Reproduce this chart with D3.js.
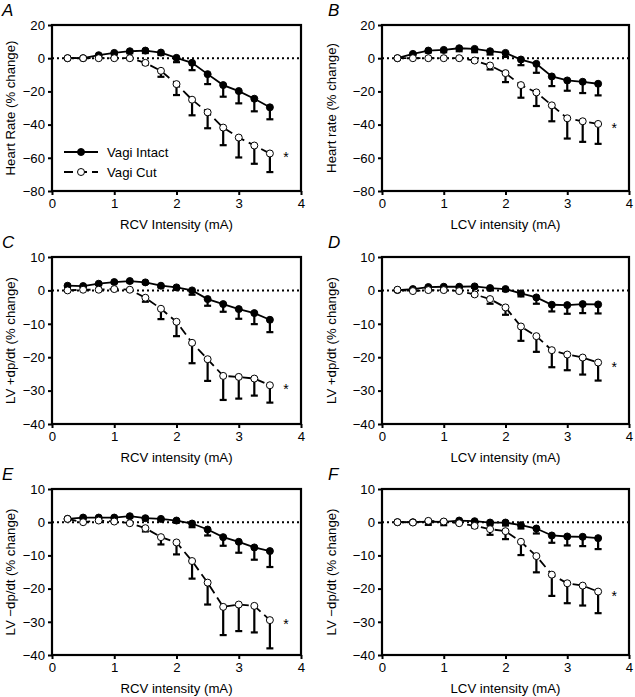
<!DOCTYPE html>
<html><head><meta charset="utf-8">
<script src="https://cdn.jsdelivr.net/npm/d3@7"></script>
<style>
html,body{margin:0;padding:0;background:#fff;}
svg{display:block;font-family:"Liberation Sans",Arial,Helvetica,sans-serif;}
</style></head>
<body>
<svg id="chart" width="635" height="697"></svg>
<script>
const intensity = [0.25,0.5,0.75,1.0,1.25,1.5,1.75,2.0,2.25,2.5,2.75,3.0,3.25,3.5];
const xTicks = [0,1,2,3,4];
const hrTicks = [-80,-60,-40,-20,0,20];
const dpTicks = [-40,-30,-20,-10,0,10];

const intactA = [0,0,1.8,3.2,4.2,4.6,3.4,0.2,-2.8,-9.6,-16.2,-19.8,-24.4,-29.6];
const intactAErr = [0,0.5,0.8,1,1.2,1.5,1.5,2.6,4.4,6,7,7.4,7.6,7.2];
const cutA = [0,0,0,0,0,-2.8,-7.6,-15.6,-25,-32.6,-41.8,-47.8,-52.6,-57.4];
const cutAErr = [0,0,0,0,0.5,1,3.6,6.6,9.4,9.6,10.6,12,11,11.2];

const intactB = [0,2.6,4.6,5,6,5.6,4.2,3.2,-0.8,-3.4,-11,-13.4,-14.2,-15.4];
const intactBErr = [0,0.5,1.2,1.4,1.8,2,2,2.4,3.4,5.4,5.8,6.2,6.8,7];
const cutB = [0,0,0,0,0,-1.4,-4.4,-9,-16.2,-20.6,-28.4,-36.2,-38,-39.6];
const cutBErr = [0,0,0,0,0.3,0.8,2.4,5.4,7.6,8.2,9.6,12.2,12.4,12];

const intactC = [1.4,1.3,2.0,2.5,2.8,2.4,1.4,0.9,0,-2.6,-4.1,-5.6,-6.8,-8.8];
const intactCErr = [0.3,0.3,0.3,0.3,0.4,0.4,0.5,0.6,1.3,2,2.3,2.9,3.3,3.7];
const cutC = [0,0.2,0.2,0.4,0.2,-2.2,-5.5,-9.4,-15.7,-20.6,-25.6,-25.9,-26.4,-28.4];
const cutCErr = [0,0,0,0.1,0.2,1.2,3.1,4.3,6.1,6.5,7.2,6.5,5.1,5.2];

const intactD = [0.1,0.4,1.0,1.1,1.1,1.2,0.7,0.4,-0.9,-2.1,-4.3,-4.4,-4.1,-4.2];
const intactDErr = [0.2,0.2,0.3,0.3,0.3,0.4,0.5,0.6,0.9,1.9,2,2.6,2.7,2.7];
const cutD = [0.2,-0.2,0.1,0.1,-0.2,-1.2,-2.6,-5.1,-10.8,-13.7,-17.9,-19.2,-20.1,-21.6];
const cutDErr = [0,0,0,0,0.2,0.4,1.4,2.2,4.3,4.7,5.1,4.7,5.1,5.4];

const intactE = [1.0,1.4,1.4,1.4,1.8,1.2,1.0,0.5,-0.4,-2.2,-4.5,-5.9,-7.6,-8.7];
const intactEErr = [0.2,0.3,0.3,0.3,0.4,0.4,0.5,0.6,1.1,1.8,2.6,3.3,3.7,4.8];
const cutE = [1.0,0,0.5,0.2,-0.3,-1.8,-4.5,-6.1,-11.7,-18.2,-25.5,-24.8,-25.2,-29.5];
const cutEErr = [0,0,0,0.1,0.2,1.0,2.2,3.6,5.3,6.6,8.5,8,8,8.5];

const intactF = [0,0,0.2,0.1,0.5,0.3,-0.1,-0.1,-0.9,-1.9,-4.0,-4.3,-4.4,-4.8];
const intactFErr = [0.2,0.4,1.0,1.0,0.8,0.6,0.8,0.9,1.0,1.5,2.2,2.7,2.8,3.3];
const cutF = [0,-0.1,0.4,0.2,-0.3,-1.1,-2.1,-2.7,-5.9,-10.2,-15.8,-18.4,-19.1,-20.9];
const cutFErr = [0,0,0,0,0.2,0.5,1.7,2.4,4.0,4.9,6.4,6,6,6.5];

const panelLetters = ["A","B","C","D","E","F"];
const yLabels = ["Heart Rate (% change)","Heart rate (% change)","LV +dp/dt (% change)","LV +dp/dt (% change)","LV \u2212dp/dt (% change)","LV \u2212dp/dt (% change)"];
const xLabels = ["RCV Intensity (mA)","LCV intensity (mA)","RCV intensity (mA)","LCV intensity (mA)","RCV intensity (mA)","LCV intensity (mA)"];
const legendLabels = ["Vagi Intact","Vagi Cut"];

const panels = [
  {intact:intactA, intactErr:intactAErr, cut:cutA, cutErr:cutAErr, yDom:[-80,20], yT:hrTicks},
  {intact:intactB, intactErr:intactBErr, cut:cutB, cutErr:cutBErr, yDom:[-80,20], yT:hrTicks},
  {intact:intactC, intactErr:intactCErr, cut:cutC, cutErr:cutCErr, yDom:[-40,10], yT:dpTicks},
  {intact:intactD, intactErr:intactDErr, cut:cutD, cutErr:cutDErr, yDom:[-40,10], yT:dpTicks},
  {intact:intactE, intactErr:intactEErr, cut:cutE, cutErr:cutEErr, yDom:[-40,10], yT:dpTicks},
  {intact:intactF, intactErr:intactFErr, cut:cutF, cutErr:cutFErr, yDom:[-40,10], yT:dpTicks}
];

const cols = [{x0:52, x1:301, lab:15}, {x0:382, x1:629, lab:336}];
const rows = [{y0:25, y1:191}, {y0:257, y1:424}, {y0:489, y1:655}];
const FS = 13.2;

const svg = d3.select("#chart");
const fmt = d => d < 0 ? "\u2212" + Math.abs(d) : String(d);

panels.forEach((p, i) => {
  const c = cols[i % 2], r = rows[Math.floor(i / 2)];
  const x = d3.scaleLinear().domain([0,4]).range([c.x0, c.x1]);
  const y = d3.scaleLinear().domain(p.yDom).range([r.y1, r.y0]);
  const g = svg.append("g");

  g.append("line").attr("x1", x(0)).attr("x2", x(4)).attr("y1", y(0)).attr("y2", y(0))
    .attr("stroke", "#000").attr("stroke-width", 2).attr("stroke-dasharray", "2,3");

  const ax = g.append("g").attr("transform", `translate(0,${r.y1})`)
    .call(d3.axisBottom(x).tickValues(xTicks).tickSize(4).tickPadding(4).tickFormat(d3.format("d")));
  const ay = g.append("g").attr("transform", `translate(${c.x0},0)`)
    .call(d3.axisLeft(y).tickValues(p.yT).tickSize(4).tickPadding(3).tickFormat(fmt));
  [ax, ay].forEach(a => {
    a.select(".domain").remove();
    a.selectAll(".tick line").attr("stroke-width", 2).attr("stroke", "#000");
    a.selectAll(".tick text").attr("font-size", FS).attr("fill", "#000").attr("font-family", null);
  });
  g.append("rect").attr("x", c.x0).attr("y", r.y0).attr("width", c.x1 - c.x0).attr("height", r.y1 - r.y0)
    .attr("fill", "none").attr("stroke", "#000").attr("stroke-width", 2.2);

  const drawSeries = (vals, errs, dashed, filled) => {
    const eg = g.append("g");
    vals.forEach((v, k) => {
      if (errs[k] <= 0.05) return;
      const xx = x(intensity[k]);
      eg.append("line").attr("x1", xx).attr("x2", xx).attr("y1", y(v)).attr("y2", y(v - errs[k]))
        .attr("stroke", "#000").attr("stroke-width", 2.2);
      eg.append("line").attr("x1", xx - 3.5).attr("x2", xx + 3.5).attr("y1", y(v - errs[k])).attr("y2", y(v - errs[k]))
        .attr("stroke", "#000").attr("stroke-width", 2.2);
    });
    const line = d3.line().x((d, k) => x(intensity[k])).y(d => y(d));
    g.append("path").datum(vals).attr("d", line).attr("fill", "none").attr("stroke", "#000")
      .attr("stroke-width", 1.8).attr("stroke-dasharray", dashed ? "9,5" : null);
    g.append("g").selectAll("circle").data(vals).join("circle")
      .attr("cx", (d, k) => x(intensity[k])).attr("cy", d => y(d)).attr("r", 3.5)
      .attr("fill", filled ? "#000" : "#fff").attr("stroke", "#000").attr("stroke-width", 1);
  };
  drawSeries(p.intact, p.intactErr, false, true);
  drawSeries(p.cut, p.cutErr, true, false);

  g.append("text").attr("x", x(3.76)).attr("y", y(p.cut[p.cut.length - 1]) + 9)
    .attr("font-size", 14).attr("text-anchor", "middle").text("*");

  svg.append("text").attr("x", (i % 2 === 0) ? 2 : 328).attr("y", r.y0 - 9)
    .attr("font-size", 17).attr("font-style", "italic").text(panelLetters[i]);

  svg.append("text").attr("transform", `translate(${c.lab},${(r.y0 + r.y1) / 2}) rotate(-90)`)
    .attr("text-anchor", "middle").attr("font-size", FS).text(yLabels[i]);
  svg.append("text").attr("x", (c.x0 + c.x1) / 2).attr("y", r.y1 + 38)
    .attr("text-anchor", "middle").attr("font-size", FS).text(xLabels[i]);

  if (i === 0) {
    const lg = svg.append("g");
    const ly = [152, 172];
    legendLabels.forEach((lab, k) => {
      lg.append("line").attr("x1", 64).attr("x2", 98).attr("y1", ly[k]).attr("y2", ly[k])
        .attr("stroke", "#000").attr("stroke-width", 1.8).attr("stroke-dasharray", k === 1 ? "9,5" : null);
      lg.append("circle").attr("cx", 81).attr("cy", ly[k]).attr("r", 3.5)
        .attr("fill", k === 0 ? "#000" : "#fff").attr("stroke", "#000").attr("stroke-width", 1);
      lg.append("text").attr("x", 107).attr("y", ly[k] + 4.5).attr("font-size", FS).text(lab);
    });
  }
});
</script>
</body></html>
